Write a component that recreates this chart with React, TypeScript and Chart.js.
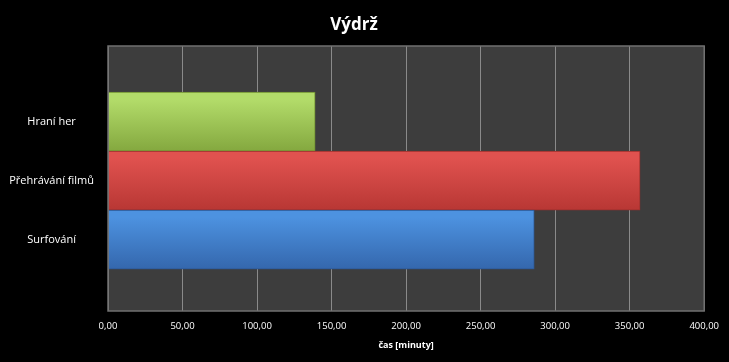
import React, { useEffect, useRef } from "react";
import { Chart, registerables } from "chart.js";

Chart.register(...registerables);

const categories = ["Hraní her", "Přehrávání filmů", "Surfování"];
const positions = [1, 2, 3];
const values = [139, 357, 286];
const xTicks = [0, 50, 100, 150, 200, 250, 300, 350, 400];
const title = "Výdrž";
const xTitle = "čas [minuty]";

const topColors = ["#b3dc6a", "#e0524f", "#4d92e0"];
const bottomColors = ["#84a83f", "#b83734", "#3467ad"];
const borderColors = ["#6f8f30", "#9a2f2c", "#2c5590"];

const FONT = "'Open Sans', 'DejaVu Sans', sans-serif";

const plotBg = {
  id: "plotBg",
  beforeDraw(chart: any) {
    const { ctx, chartArea: a } = chart;
    ctx.save();
    ctx.fillStyle = "#000000";
    ctx.fillRect(0, 0, chart.width, chart.height);
    ctx.fillStyle = "#3d3d3d";
    ctx.fillRect(a.left, a.top, a.right - a.left, a.bottom - a.top);
    ctx.restore();
  },
  afterDraw(chart: any) {
    const { ctx, chartArea: a } = chart;
    ctx.save();
    ctx.strokeStyle = "#707070";
    ctx.lineWidth = 1.5;
    ctx.strokeRect(a.left, a.top, a.right - a.left, a.bottom - a.top);
    ctx.restore();
  },
};

export default function App() {
  const ref = useRef<HTMLCanvasElement>(null);
  useEffect(() => {
    if (!ref.current) return;
    const gradientFor = (c: any) => {
      const i = c.dataIndex;
      const chart = c.chart;
      const y = chart.scales && chart.scales.y;
      if (!y || !chart.chartArea) return topColors[i];
      const p = y.getPixelForValue(positions[i]);
      const half = Math.abs(y.getPixelForValue(1) - y.getPixelForValue(2)) / 2;
      const g = chart.ctx.createLinearGradient(0, p - half, 0, p + half);
      g.addColorStop(0, topColors[i]);
      g.addColorStop(0.12, topColors[i]);
      g.addColorStop(1, bottomColors[i]);
      return g;
    };
    const chart = new Chart(ref.current, {
      type: "bar",
      data: {
        datasets: [
          {
            data: values.map((v, i) => ({ x: v, y: positions[i] })),
            backgroundColor: gradientFor as any,
            borderColor: borderColors,
            borderWidth: 1,
            categoryPercentage: 1,
            barPercentage: 1,
          },
        ],
      },
      options: {
        indexAxis: "y",
        animation: false,
        responsive: true,
        maintainAspectRatio: false,
        layout: { padding: { left: 0, right: 21, top: 0, bottom: 11 } },
        plugins: {
          legend: { display: false },
          tooltip: { enabled: false },
          title: {
            display: true,
            text: title,
            color: "#ffffff",
            font: { family: FONT, size: 17, weight: "bold" },
            padding: { top: 15, bottom: 10.6 },
          },
        },
        scales: {
          x: {
            type: "linear",
            min: 0,
            max: 400,
            afterBuildTicks: (s: any) => {
              s.ticks = xTicks.map((v) => ({ value: v }));
            },
            afterFit: (s: any) => {
              s.height = 40;
            },
            grid: { color: "#8a8a8a", lineWidth: 1, drawTicks: false },
            border: { display: false },
            ticks: {
              color: "#ffffff",
              font: { family: FONT, size: 9.5 },
              padding: 10,
              maxRotation: 0,
              callback: (v: any) => Number(v).toFixed(2).replace(".", ","),
            },
            title: {
              display: true,
              text: xTitle,
              color: "#ffffff",
              font: { family: FONT, size: 9, weight: "bold" },
              padding: { top: 3, bottom: 0 },
            },
          },
          y: {
            type: "linear",
            reverse: true,
            offset: false,
            min: -0.28,
            max: 4.21,
            afterBuildTicks: (s: any) => {
              s.ticks = positions.map((v) => ({ value: v }));
            },
            afterFit: (s: any) => {
              s.width = 108;
            },
            grid: { display: false },
            border: { display: false },
            ticks: {
              color: "#ffffff",
              font: { family: FONT, size: 11 },
              crossAlign: "center",
              padding: 6,
              callback: (v: any) => {
                const i = positions.indexOf(Number(v));
                return i >= 0 ? categories[i] : "";
              },
            },
          },
        },
      },
      plugins: [plotBg],
    });
    return () => chart.destroy();
  }, []);
  return (
    <div
      style={{
        position: "fixed",
        left: 0,
        top: 0,
        width: 729,
        height: 362,
        background: "#000",
      }}
    >
      <canvas ref={ref} />
    </div>
  );
}
